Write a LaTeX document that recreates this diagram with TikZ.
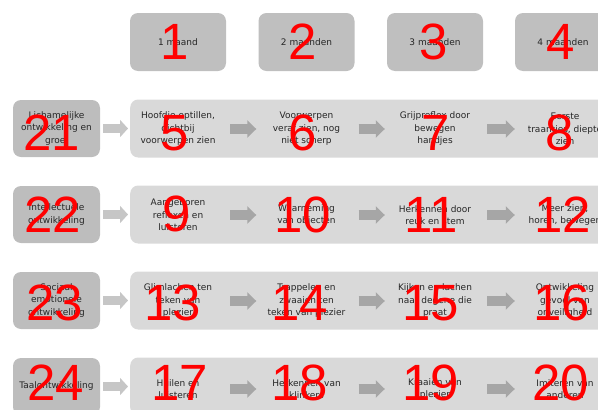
\documentclass[tikz,border=0pt]{standalone}
\usepackage{fontspec}
\setmainfont{DejaVu Sans}
\newfontfamily\numfont{Liberation Sans}
\usetikzlibrary{arrows.meta}

\definecolor{kopgrijs}{HTML}{BFBFBF}
\definecolor{vakgrijs}{HTML}{BDBDBD}
\definecolor{bandgrijs}{HTML}{D9D9D9}
\definecolor{pijlgrijs}{HTML}{A6A6A6}
\definecolor{pijllicht}{HTML}{C6C6C6}

\begin{document}
\begin{tikzpicture}[x=1pt, y=-1pt,
    tekst/.style={font=\fontsize{9}{12.5}\selectfont, text=black!85, align=center, inner sep=0pt},
    kop/.style={tekst, fill=kopgrijs, rounded corners=8pt, minimum width=96pt, minimum height=58pt},
    thema/.style={tekst, fill=vakgrijs, rounded corners=8pt, minimum width=87pt, minimum height=57pt},
    band/.style={fill=bandgrijs, rounded corners=8pt, minimum width=500pt, minimum height=58pt, inner sep=0pt, anchor=west},
    vak/.style={tekst, minimum width=100pt, minimum height=40pt},
    pijl/.style={draw=pijlgrijs, line width=10pt, -{Triangle[width=17pt, length=9pt]}, shorten <=2pt},
    pijlin/.style={draw=pijllicht, line width=9pt, -{Triangle[width=17pt, length=8pt]}, shorten <=3pt, shorten >=2pt},
    nummer/.style={font=\numfont\fontsize{51}{51}\selectfont, text=red, inner sep=0pt}]

    \useasboundingbox (0,0) rectangle (598,410);
    \clip (0,0) rectangle (598,410);

    % leeftijden bovenaan
    \node[kop] (kop1) at (178,42)   {1 maand};
    \node[kop] (kop2) at (306.5,42) {2 maanden};
    \node[kop] (kop3) at (435,42)   {3 maanden};
    \node[kop] (kop4) at (563,42)   {4 maanden};

    % rij 1: lichamelijk
    \node[thema] (thema1) at (56.5,128.5) {Lichamelijke\\ontwikkeling en\\groei};
    \node[band] (band1) at (130,128.5) {};
    \node[vak] (v11) at (178,129)   {Hoofdje optillen,\\dichtbij\\voorwerpen zien};
    \node[vak] (v12) at (306.5,129) {Voorwerpen\\veraf zien, nog\\niet scherp};
    \node[vak] (v13) at (435,129)   {Grijpreflex door\\bewegen\\handjes};
    \node[vak] (v14) at (565,129)   {Eerste\\traantjes, diepte\\zien};
    \draw[pijlin] (thema1.east) -- (band1.west);
    \draw[pijl] (v11.east) -- (v12.west);
    \draw[pijl] (v12.east) -- (v13.west);
    \draw[pijl] (v13.east) -- (v14.west);

    % rij 2: intellectueel
    \node[thema] (thema2) at (56.5,214.5) {Intellectuele\\ontwikkeling};
    \node[band] (band2) at (130,214.5) {};
    \node[vak] (v21) at (178,215)   {Aangeboren\\reflexen en\\luisteren};
    \node[vak] (v22) at (306.5,215) {Waarneming\\van objecten};
    \node[vak] (v23) at (435,215)   {Herkennen door\\reuk en stem};
    \node[vak] (v24) at (565,215)   {Meer zien,\\horen, bewegen};
    \draw[pijlin] (thema2.east) -- (band2.west);
    \draw[pijl] (v21.east) -- (v22.west);
    \draw[pijl] (v22.east) -- (v23.west);
    \draw[pijl] (v23.east) -- (v24.west);

    % rij 3: sociaal emotioneel
    \node[thema] (thema3) at (56.5,300.5) {Sociaal\\emotionele\\ontwikkeling};
    \node[band] (band3) at (130,300.5) {};
    \node[vak] (v31) at (178,301)   {Glimlachen ten\\teken van\\plezier};
    \node[vak] (v32) at (306.5,301) {Trappelen en\\zwaaien ten\\teken van plezier};
    \node[vak] (v33) at (435,301)   {Kijken en lachen\\naar degene die\\praat};
    \node[vak] (v34) at (565,301)   {Ontwikkeling\\gevoel van\\onveiligheid};
    \draw[pijlin] (thema3.east) -- (band3.west);
    \draw[pijl] (v31.east) -- (v32.west);
    \draw[pijl] (v32.east) -- (v33.west);
    \draw[pijl] (v33.east) -- (v34.west);

    % rij 4: taal
    \node[thema] (thema4) at (56.5,386.5) {Taalontwikkeling};
    \node[band] (band4) at (130,386.5) {};
    \node[vak] (v41) at (178,389)   {Huilen en\\luisteren};
    \node[vak] (v42) at (306.5,389) {Herkennen van\\klinkers};
    \node[vak] (v43) at (435,389)   {Kraaien van\\plezier};
    \node[vak] (v44) at (565,389)   {Imiteren van\\anderen};
    \draw[pijlin] (thema4.east) -- (band4.west);
    \draw[pijl] (v41.east) -- (v42.west);
    \draw[pijl] (v42.east) -- (v43.west);
    \draw[pijl] (v43.east) -- (v44.west);

    % rode nummers
    \node[nummer] (n1) at (175,42) {1};
    \node[nummer] (n2) at (303,42) {2};
    \node[nummer] (n3) at (434,42) {3};
    \node[nummer] (n4) at (561,42) {4};
    \node[nummer] (n5) at (175,133) {5};
    \node[nummer] (n6) at (303,133) {6};
    \node[nummer] (n7) at (436,133) {7};
    \node[nummer] (n8) at (560,133) {8};
    \node[nummer] (n9) at (177,214) {9};
    \node[nummer] (n10) at (303,215) {10};
    \node[nummer] (n11) at (431,215) {11};
    \node[nummer] (n12) at (563,215) {12};
    \node[nummer] (n13) at (173,303) {13};
    \node[nummer] (n14) at (300,303) {14};
    \node[nummer] (n15) at (431,303) {15};
    \node[nummer] (n16) at (562,303) {16};
    \node[nummer] (n17) at (180,383) {17};
    \node[nummer] (n18) at (300,383) {18};
    \node[nummer] (n19) at (431,383) {19};
    \node[nummer] (n20) at (561,383) {20};
    \node[nummer] (n21) at (52,133) {21};
    \node[nummer] (n22) at (53,215) {22};
    \node[nummer] (n23) at (55,303) {23};
    \node[nummer] (n24) at (56,383) {24};
\end{tikzpicture}
\end{document}
